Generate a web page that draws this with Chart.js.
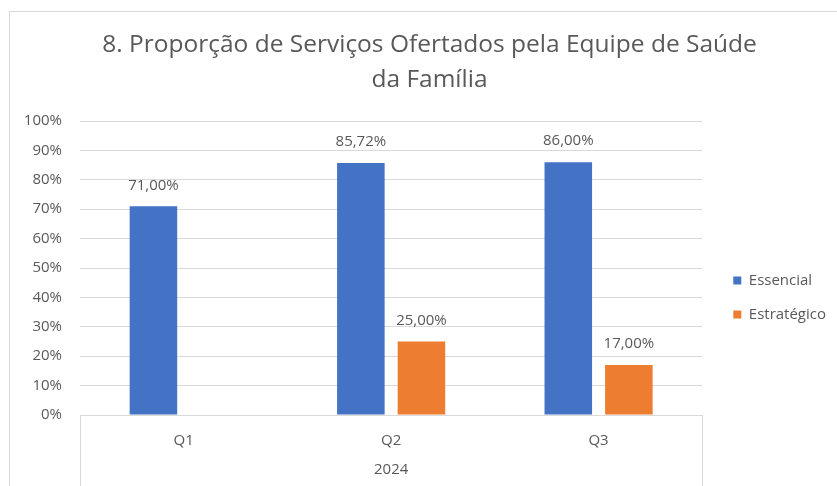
<!DOCTYPE html>
<html>
<head>
<meta charset="utf-8">
<script src="https://cdn.jsdelivr.net/npm/chart.js@4.4.1/dist/chart.umd.min.js"></script>
<style>
  html, body { margin: 0; padding: 0; background: #fff; }
  #wrap { position: relative; width: 837px; height: 486px; overflow: hidden; }
  #moldura { position: absolute; left: 9px; top: 11px; width: 900px; height: 520px; border: 1px solid #d9d9d9; }
  canvas { position: absolute; left: 0; top: 0; }
</style>
</head>
<body>
<div id="wrap">
  <div id="moldura"></div>
  <canvas id="grafico" width="837" height="486"></canvas>
</div>
<script>
// dados do grafico
const trimestres = ['Q1', 'Q2', 'Q3'];
const anos = ['', '2024', ''];
const essencial = [71.00, 85.72, 86.00];
const estrategico = [null, 25.00, 17.00];
const titulo = ['8. Proporção de Serviços Ofertados pela Equipe de Saúde', 'da Família'];

const FONTE = '"Open Sans", sans-serif';
const CINZA = '#595959';
const GRADE = '#d9d9d9';

function formatar(v) {
    return v.toFixed(2).replace('.', ',') + '%';
}

// rotulos de valor acima das barras
const rotulos = {
    id: 'rotulos',
    afterDatasetsDraw(chart) {
        const ctx = chart.ctx;
        ctx.save();
        ctx.font = '15px ' + FONTE;
        ctx.fillStyle = CINZA;
        ctx.textAlign = 'center';
        ctx.textBaseline = 'middle';
        chart.data.datasets.forEach((ds, i) => {
            chart.getDatasetMeta(i).data.forEach((bar, j) => {
                const v = ds.data[j];
                if (v == null) return;
                ctx.fillText(formatar(v), bar.x, bar.y - 21);
            });
        });
        ctx.restore();
    }
};

// linhas verticais do eixo de categorias
const caixaEixo = {
    id: 'caixaEixo',
    afterDraw(chart) {
        const { left, right, bottom } = chart.chartArea;
        const ctx = chart.ctx;
        ctx.save();
        ctx.strokeStyle = GRADE;
        ctx.lineWidth = 1;
        ctx.beginPath();
        ctx.moveTo(Math.round(left) + 0.5, bottom);
        ctx.lineTo(Math.round(left) + 0.5, chart.height);
        ctx.moveTo(Math.round(right) + 0.5, bottom);
        ctx.lineTo(Math.round(right) + 0.5, chart.height);
        ctx.stroke();
        ctx.restore();
    }
};

const ctx = document.getElementById('grafico').getContext('2d');
new Chart(ctx, {
    type: 'bar',
    data: {
        labels: trimestres,
        datasets: [
            { label: 'Essencial', data: essencial, backgroundColor: '#4472c4', xAxisID: 'x', yAxisID: 'y' },
            { label: 'Estratégico', data: estrategico, backgroundColor: '#ed7d31', xAxisID: 'x', yAxisID: 'y' }
        ]
    },
    options: {
        responsive: false,
        animation: false,
        categoryPercentage: 0.584,
        barPercentage: 0.785,
        layout: { padding: { left: 23, right: 1, top: 0, bottom: 6 } },
        plugins: {
            title: {
                display: true,
                text: titulo,
                color: CINZA,
                font: { family: FONTE, size: 24.5, weight: 'normal', lineHeight: 35 / 24.5 },
                padding: { top: 27.5, bottom: 23.5 }
            },
            legend: {
                position: 'right',
                // titulo vazio so para empurrar os itens para baixo
                title: { display: true, text: ' ', font: { family: FONTE, size: 15 }, padding: { top: 97, bottom: 0 } },
                labels: {
                    boxWidth: 8,
                    boxHeight: 8,
                    padding: 19,
                    color: CINZA,
                    font: { family: FONTE, size: 15 }
                }
            },
            tooltip: { enabled: false }
        },
        scales: {
            x: {
                position: 'bottom',
                grid: { display: false, drawTicks: false },
                border: { display: true, color: GRADE },
                ticks: { color: CINZA, font: { family: FONTE, size: 15 }, padding: 17 },
                afterFit(s) { s.height = 35; }
            },
            x2: {
                type: 'category',
                labels: anos,
                position: 'bottom',
                grid: { display: false, drawTicks: false },
                border: { display: false },
                ticks: { color: CINZA, font: { family: FONTE, size: 15 }, padding: 11 },
                afterFit(s) { s.height = 30; }
            },
            y: {
                min: 0,
                max: 100,
                ticks: { stepSize: 10, color: CINZA, font: { family: FONTE, size: 15 }, padding: 18, callback: v => v + '%' },
                grid: { color: GRADE, drawTicks: false },
                border: { display: false },
                afterFit(s) { s.width = 57; }
            },
            yR: {
                position: 'right',
                grid: { display: false },
                border: { display: false },
                ticks: { display: false },
                afterFit(s) { s.width = 12; }
            }
        }
    },
    plugins: [rotulos, caixaEixo]
});
</script>
</body>
</html>
